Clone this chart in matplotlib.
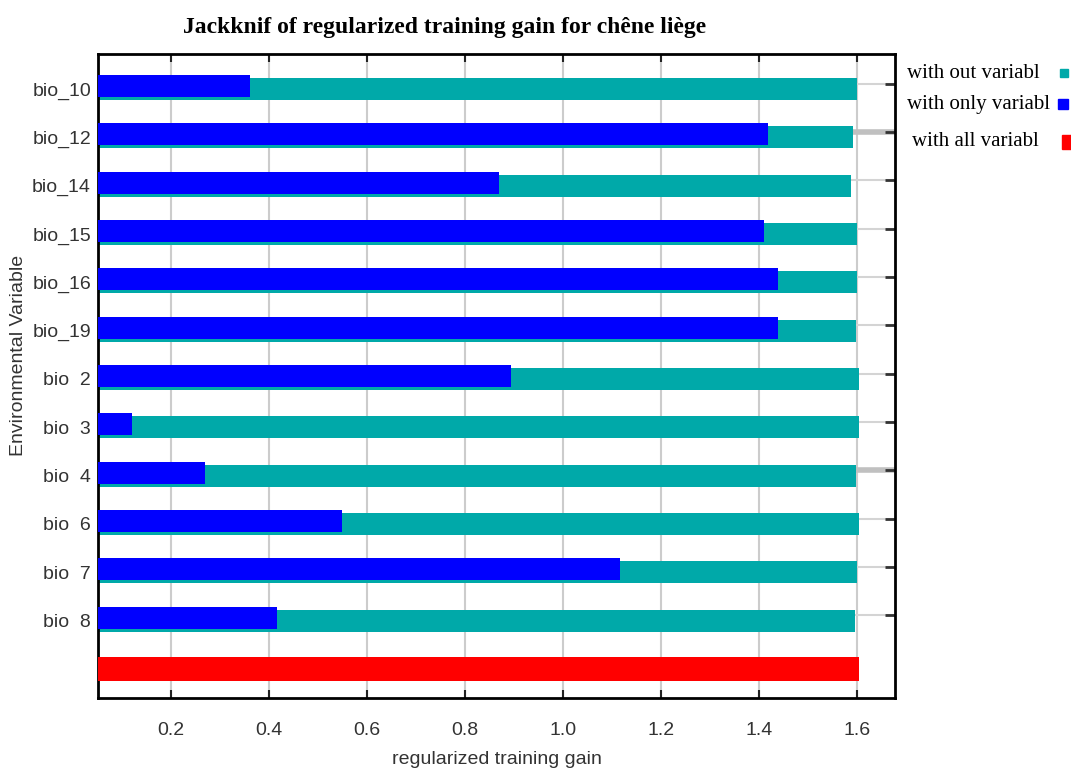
import matplotlib
matplotlib.use('Agg')
from matplotlib import pyplot as plt
from matplotlib.patches import Rectangle
import numpy as np

# jackknife results, top to bottom
variables = ['bio_10', 'bio_12', 'bio_14', 'bio_15', 'bio_16', 'bio_19',
             'bio  2', 'bio  3', 'bio  4', 'bio  6', 'bio  7', 'bio  8']
gain_without = [1.600, 1.592, 1.588, 1.600, 1.600, 1.598,
                1.604, 1.604, 1.598, 1.604, 1.600, 1.596]
gain_only = [0.360, 1.419, 0.870, 1.411, 1.440, 1.440,
             0.893, 0.120, 0.268, 0.548, 1.116, 0.417]
gain_all = 1.604
x_ticks = [0.2, 0.4, 0.6, 0.8, 1.0, 1.2, 1.4, 1.6]

TEAL = '#00A9A9'
BLUE = '#0000FF'
RED = '#FF0000'
sans = ['Liberation Sans', 'DejaVu Sans']
serif = ['Liberation Serif', 'DejaVu Serif']

fig = plt.figure(figsize=(10.71, 7.72), dpi=100)
ax = fig.add_axes([98 / 1071, 1 - 698 / 772, (895 - 98) / 1071, (698 - 54) / 772])

n = len(variables)
pos = np.arange(n)
bar_h = 0.455

# light grid lines behind the bars
for x in x_ticks:
    ax.axvline(x, color='#cccccc', lw=1.5, zorder=0)
for i in range(n):
    thick = variables[i] in ('bio_12', 'bio  4')
    ax.axhline(i - 0.11, color='#c0c0c0' if thick else '#d4d4d4',
               lw=4 if thick else 1.5, zorder=0)

ax.barh(pos, gain_without, height=bar_h, color=TEAL, zorder=2)
ax.barh(pos - 0.062, gain_only, height=bar_h, color=BLUE, zorder=3)
ax.barh(n, gain_all, height=0.5, color=RED, zorder=3)

ax.set_xlim(0.0505, 1.678)
ax.set_ylim(12.6, -0.724)

ax.set_xticks(x_ticks)
ax.set_xticklabels(['%.1f' % v for v in x_ticks], family=sans, fontsize=14,
                   color='#333333')
ax.tick_params(axis='x', direction='in', length=6, width=1.5, pad=17,
               top=True, bottom=True, color='#222222')

# y labels sit on the bars, ticks only on the right spine
ax.set_yticks(pos - 0.11, minor=True)
ax.set_yticks(pos)
ax.set_yticklabels(variables, family=sans, fontsize=14, color='#333333')
ax.tick_params(axis='y', which='major', length=0, pad=5)
ax.tick_params(axis='y', which='minor', direction='in', left=False, right=True,
               length=7, width=2, color='#333333')

for s in ax.spines.values():
    s.set_linewidth(2)
    s.set_color('black')

fig.text(497 / 1071, 1 - 760 / 772, 'regularized training gain', family=sans,
         fontsize=14, ha='center', va='center', color='#333333')
fig.text(19 / 1071, 1 - 355 / 772, 'Environmental Variable', family=sans,
         fontsize=14, rotation=90, ha='center', va='center', color='#333333')

fig.text(445 / 1071, 1 - 28 / 772, 'Jackknif of regularized training gain for chêne liège',
         family=serif, fontsize=17, fontweight='bold', ha='center', va='center')

# legend drawn by hand on the right
legend_labels = ['with out variabl', 'with only variabl', 'with all variabl']
legend_colors = [TEAL, BLUE, RED]
legend_x = [907, 907, 912]
legend_y = [73, 104, 142]
swatch_x = [1060, 1058, 1062]
swatch_size = [(8, 8), (10, 10), (10, 14)]
for label, col, lx, ly, sx, (w, h) in zip(legend_labels, legend_colors, legend_x,
                                          legend_y, swatch_x, swatch_size):
    fig.text(lx / 1071, 1 - ly / 772, label, family=serif, fontsize=15,
             ha='left', va='center')
    fig.patches.append(Rectangle((sx / 1071, 1 - (ly + h / 2) / 772), w / 1071, h / 772,
                                 transform=fig.transFigure, color=col))

fig.savefig('out.png', dpi=100)
